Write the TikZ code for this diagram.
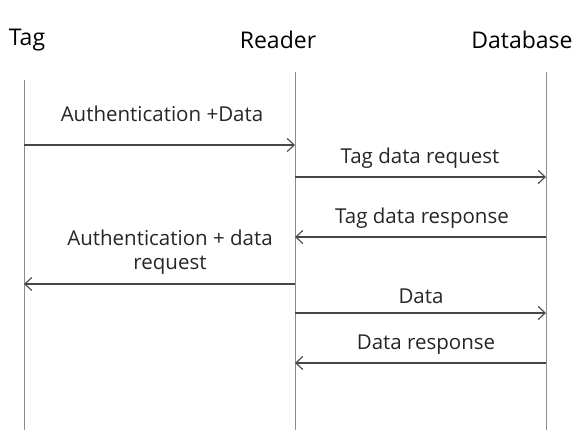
\documentclass[tikz,border=0pt]{standalone}
\usepackage{fontspec}
\setmainfont{Open Sans}
\usetikzlibrary{arrows.meta}
\tikzset{
  head/.style={font=\fontsize{23}{27}\selectfont, inner sep=0pt},
  lbl/.style={font=\fontsize{20.5}{24}\selectfont, inner sep=0pt, align=center, text=black!85},
  life/.style={draw=black!45, line width=0.8pt},
  msg/.style={draw=black!72, line width=1.2pt, -{Straight Barb[length=7pt,width=13pt,line width=1.1pt]}},
}
\begin{document}
\begin{tikzpicture}[x=1pt,y=-1pt]
  \useasboundingbox (0,0) rectangle (574,430);
  % participant headers
  \node[head] (hTag) at (27,40) {Tag};
  \node[head] (hReader) at (278,40) {Reader};
  \node[head] (hDb) at (522,40) {Database};
  % lifelines
  \coordinate (tTop) at (24,80);   \coordinate (tBot) at (24,430);
  \coordinate (rTop) at (295,72);  \coordinate (rBot) at (295,430);
  \coordinate (dTop) at (546,72);  \coordinate (dBot) at (546,430);
  \draw[life] (tTop) -- (tBot);
  \draw[life] (rTop) -- (rBot);
  \draw[life] (dTop) -- (dBot);
  % message end points
  \coordinate (t1) at (24,145);  \coordinate (r1) at (295,145);
  \coordinate (r2) at (295,177); \coordinate (d2) at (546,177);
  \coordinate (d3) at (546,237); \coordinate (r3) at (295,237);
  \coordinate (r4) at (295,284); \coordinate (t4) at (24,284);
  \coordinate (r5) at (295,313); \coordinate (d5) at (546,313);
  \coordinate (d6) at (546,363); \coordinate (r6) at (295,363);
  % messages
  \draw[msg] (t1) -- (r1);
  \draw[msg] (r2) -- (d2);
  \draw[msg] (d3) -- (r3);
  \draw[msg] (r4) -- (t4);
  \draw[msg] (r5) -- (d5);
  \draw[msg] (d6) -- (r6);
  % message labels
  \node[lbl] (m1) at (162,114) {Authentication +Data};
  \node[lbl] (m2) at (420,158) {Tag data request};
  \node[lbl] (m3) at (422,218) {Tag data response};
  \node[lbl] (m4) at (170,252) {Authentication + data\\request};
  \node[lbl] (m5) at (421,296) {Data};
  \node[lbl] (m6) at (426,345) {Data response};
\end{tikzpicture}
\end{document}
